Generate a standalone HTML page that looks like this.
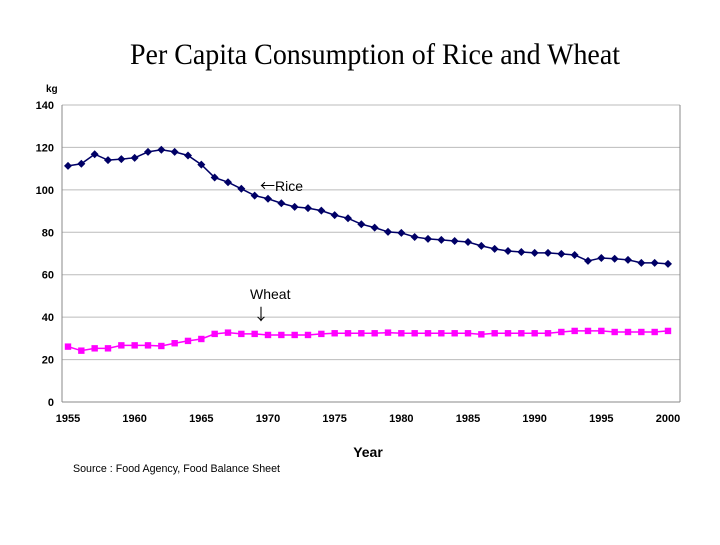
<!DOCTYPE html>
<html><head><meta charset="utf-8"><style>
body{margin:0;background:#fff;}
svg text{font-family:"Liberation Sans",sans-serif;}
</style></head><body>
<svg id="chart" width="720" height="540" xmlns="http://www.w3.org/2000/svg">
<text x="130" y="64" textLength="490" lengthAdjust="spacingAndGlyphs" style="font-family:'Liberation Serif',serif;font-size:30px">Per Capita Consumption of Rice and Wheat</text>
<text x="46" y="92" style="font-size:10px;font-weight:bold">kg</text>
<g id="grid"></g><g id="ticks"></g><g id="series"></g>
<text x="260" y="191" style="font-size:14px"><tspan style="font-family:'Noto Sans CJK JP',sans-serif;font-size:15px">←</tspan>Rice</text>
<text x="250" y="299" style="font-size:14px">Wheat</text>
<text x="253" y="320" style="font-size:16px;font-family:'Noto Sans CJK JP',sans-serif">↓</text>
<text x="368" y="457" text-anchor="middle" style="font-size:14px;font-weight:bold">Year</text>
<text x="73" y="472" textLength="207" lengthAdjust="spacingAndGlyphs" style="font-size:11px">Source : Food Agency, Food Balance Sheet</text>
</svg>
<script>
const years=[];for(let y=1955;y<=2000;y++)years.push(y);
const rice=[111.3,112.3,116.8,114.0,114.5,115.1,117.9,118.9,117.9,116.2,111.9,105.8,103.6,100.5,97.3,95.8,93.7,92.0,91.4,90.2,88.1,86.6,83.8,82.2,80.2,79.7,77.8,76.9,76.4,75.9,75.4,73.6,72.2,71.2,70.7,70.3,70.3,69.8,69.3,66.5,67.9,67.5,67.0,65.6,65.6,65.1];
const wheat=[26.1,24.2,25.3,25.3,26.7,26.7,26.7,26.4,27.7,28.8,29.7,32.1,32.7,32.1,32.1,31.6,31.6,31.6,31.6,32.1,32.4,32.4,32.4,32.4,32.7,32.4,32.4,32.4,32.4,32.4,32.4,31.9,32.4,32.4,32.4,32.4,32.4,33.0,33.5,33.5,33.5,33.0,33.0,33.0,33.0,33.5];
const yTicks=[0,20,40,60,80,100,120,140];
const xTicks=[1955,1960,1965,1970,1975,1980,1985,1990,1995,2000];
const NS="http://www.w3.org/2000/svg";
const L=62,R=680,T=105,B=402;
const X=v=>68+(v-1955)*(668-68)/45;
const Y=v=>B-(v/140)*(B-T);
function mk(tag,attrs,parent){const e=document.createElementNS(NS,tag);for(const k in attrs)e.setAttribute(k,attrs[k]);document.getElementById(parent).appendChild(e);return e;}
yTicks.forEach(t=>{
 const g=mk('line',{x1:L,x2:R,y1:Y(t),y2:Y(t),stroke:t===0?'#888':'#bbb','stroke-width':1},'grid');
 
 
 const tx=mk('text',{x:L-8,y:Y(t)+4,'text-anchor':'end','font-size':11,'font-weight':'bold'},'ticks');tx.textContent=t;
 
 
});
const ax=mk('line',{x1:L,x2:L,y1:T,y2:B,stroke:'#888'},'grid');


const ax2=mk('line',{x1:R,x2:R,y1:T,y2:B,stroke:'#888'},'grid');


xTicks.forEach(t=>{
 const tx=mk('text',{x:X(t),y:422,'text-anchor':'middle','font-size':11,'font-weight':'bold'},'ticks');tx.textContent=t;
 
 
});
function series(vals,color,name,shape){
 const pts=vals.map((v,i)=>X(years[i])+','+Y(v)).join(' ');
 const pl=mk('polyline',{points:pts,fill:'none',stroke:color,'stroke-width':1.5},'series');
 
 
 vals.forEach((v,i)=>{
  const x=X(years[i]),y=Y(v);let m;
  if(shape==='d')m=mk('polygon',{points:`${x},${y-4} ${x+4},${y} ${x},${y+4} ${x-4},${y}`,fill:color},'series');
  else m=mk('rect',{x:x-3.2,y:y-3.2,width:6.4,height:6.4,fill:color},'series');
  
  
 });
}
series(rice,'#000066','rice','d');
series(wheat,'#ff00ff','wheat','s');
</script>
</body></html>
